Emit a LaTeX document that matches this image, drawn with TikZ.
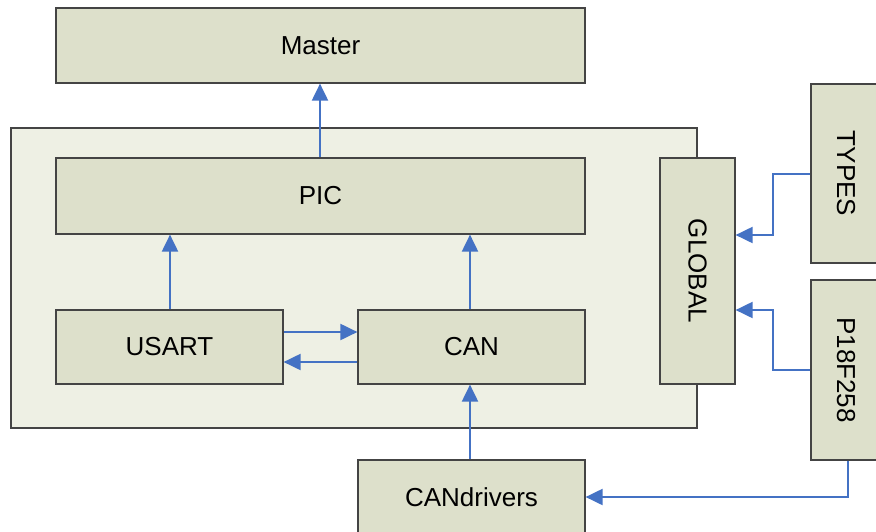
\documentclass[tikz,border=0pt]{standalone}
\usepackage{fontspec}
\setmainfont{Liberation Sans}
\usetikzlibrary{arrows.meta}
\definecolor{boxfill}{HTML}{DDE0CB}
\definecolor{outerfill}{HTML}{EEF0E4}
\definecolor{arrowblue}{HTML}{4472C4}
\definecolor{edgegray}{HTML}{444444}
\tikzset{
  box/.style={draw=edgegray, line width=1.2pt, fill=boxfill, inner sep=0pt, font=\fontsize{26}{30}\selectfont},
  conn/.style={draw=arrowblue, line width=2pt, -{Triangle[length=17pt,width=16pt]}},
}
\begin{document}
\begin{tikzpicture}[x=1pt,y=-1pt]
\useasboundingbox (0,0) rectangle (876,531);
\node[box, fill=outerfill, minimum width=686pt, minimum height=300pt] (outer) at (354,278) {};
\node[box, minimum width=529pt, minimum height=75pt] (master) at (320.5,45.5) {Master};
\node[box, minimum width=529pt, minimum height=76pt] (pic) at (320.5,196) {PIC};
\node[box, minimum width=227pt, minimum height=74pt] (usart) at (169.5,347) {USART};
\node[box, minimum width=227pt, minimum height=74pt] (can) at (471.5,347) {CAN};
\node[box, minimum width=75pt, minimum height=226pt] (global) at (697.5,271) {\rotatebox{-90}{GLOBAL}};
\node[box, minimum width=70pt, minimum height=179pt] (types) at (846,173.5) {\rotatebox{-90}{TYPES}};
\node[box, minimum width=70pt, minimum height=180pt] (p18) at (846,370) {\rotatebox{-90}{P18F258}};
\node[box, minimum width=227pt, minimum height=74pt] (candrv) at (471.5,497) {CANdrivers};
\draw[conn] (pic.north -| 320,0) -- (320,0 |- master.south);
\draw[conn] (usart.north -| 170,0) -- (170,0 |- pic.south);
\draw[conn] (can.north -| 470,0) -- (470,0 |- pic.south);
\draw[conn] (usart.east |- 0,332) -- (can.west |- 0,332);
\draw[conn] (can.west |- 0,362) -- (usart.east |- 0,362);
\draw[conn] (candrv.north -| 470,0) -- (470,0 |- can.south);
\coordinate (tA) at (773,174);
\coordinate (pA) at (773,370);
\draw[conn] (types.west |- tA) -- (tA) -- (773,235) -- (global.east |- 0,235);
\draw[conn] (p18.west |- pA) -- (pA) -- (773,310) -- (global.east |- 0,310);
\coordinate (pB) at (848,497);
\draw[conn] (p18.south -| pB) -- (pB) -- (candrv.east |- pB);
\end{tikzpicture}
\end{document}
